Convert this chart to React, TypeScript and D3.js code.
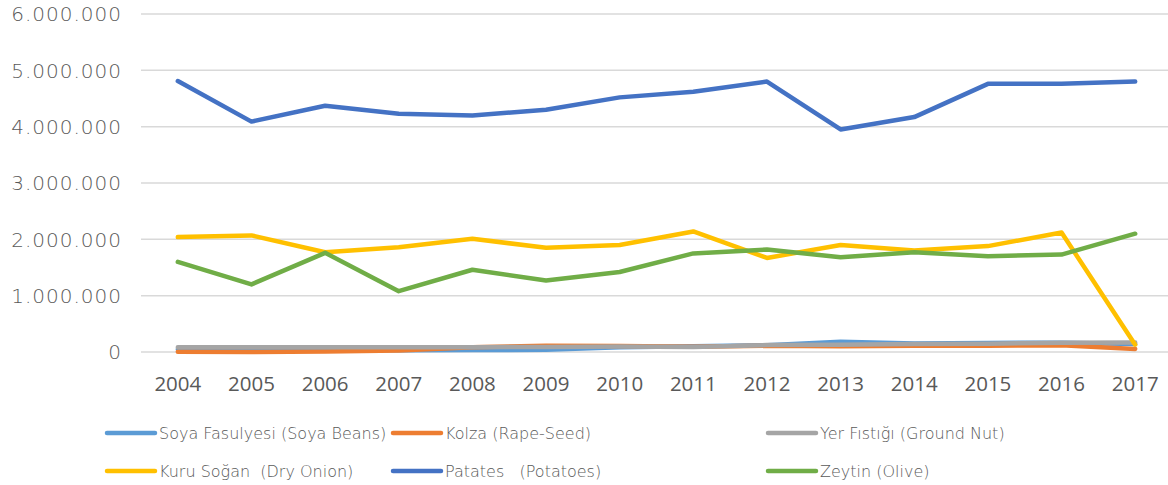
import React from "react";
import * as d3 from "d3";

const years = ["2004","2005","2006","2007","2008","2009","2010","2011","2012","2013","2014","2015","2016","2017"];
const soya = [50000,29000,47000,31000,35000,40000,86000,102000,122000,180000,150000,161000,165000,140000];
const kolza = [4000,1000,7000,28000,84000,113000,106000,91000,110000,100000,110000,110000,120000,55000];
const yerFistigi = [85000,85000,85000,85000,85000,90000,97000,90000,123000,130000,140000,147000,164000,167000];
const kuruSogan = [2040000,2070000,1770000,1860000,2010000,1850000,1900000,2140000,1670000,1900000,1800000,1880000,2120000,130000];
const patates = [4810000,4090000,4370000,4230000,4200000,4300000,4520000,4620000,4800000,3950000,4170000,4760000,4760000,4800000];
const zeytin = [1600000,1200000,1760000,1080000,1460000,1270000,1420000,1750000,1820000,1680000,1770000,1700000,1730000,2100000];
const yTicks = [0,1000000,2000000,3000000,4000000,5000000,6000000];

const series = [
  { name: "Soya Fasulyesi (Soya Beans)", values: soya, color: "#5B9BD5" },
  { name: "Kolza (Rape-Seed)", values: kolza, color: "#ED7D31" },
  { name: "Yer Fıstığı (Ground Nut)", values: yerFistigi, color: "#A5A5A5" },
  { name: "Kuru Soğan  (Dry Onion)", values: kuruSogan, color: "#FFC000" },
  { name: "Patates   (Potatoes)", values: patates, color: "#4472C4" },
  { name: "Zeytin (Olive)", values: zeytin, color: "#70AD47" },
];

const legendPos = [
  [107, 433], [393, 433], [768, 433],
  [107, 471], [393, 471], [768, 471],
];

const fmt = (v: number) => v === 0 ? "0" : d3.format(",")(v).replace(/,/g, ".");

export default function App() {
  const W = 1168, H = 485;
  const x = d3.scaleBand().domain(years).range([141, 1172]);
  const y = d3.scaleLinear().domain([0, 6000000]).range([352, 14]);
  const geo = "'DejaVu Sans', sans-serif";
  const xfont = "'Open Sans', sans-serif";
  const line = d3.line<number>()
    .x((_, i) => (x(years[i]) as number) + x.bandwidth() / 2)
    .y((d) => y(d));
  return (
    <div style={{ position: "fixed", left: 0, top: 0 }}>
      <svg width={W} height={H} style={{ display: "block", background: "#fff" }}>
        {yTicks.map((t) => (
          <g key={t}>
            <line x1={141} x2={1168} y1={y(t)} y2={y(t)} stroke="#D9D9D9" strokeWidth={1.5} />
            <text x={122} y={y(t)} dy="0.36em" textAnchor="end" fontFamily={geo} fontWeight={200} fontSize={20} letterSpacing={1} fill="#595959">{fmt(t)}</text>
          </g>
        ))}
        {years.map((yr) => (
          <text key={yr} x={(x(yr) as number) + x.bandwidth() / 2} y={391} textAnchor="middle" fontFamily={xfont} fontSize={20.5} fill="#595959">{yr}</text>
        ))}
        {series.map((s) => (
          <path key={s.name} d={line(s.values) || ""} fill="none" stroke={s.color} strokeWidth={4.5} strokeLinecap="round" strokeLinejoin="round" />
        ))}
        {series.map((s, i) => (
          <g key={s.name} transform={`translate(${legendPos[i][0]},${legendPos[i][1]})`}>
            <line x1={0} x2={48} y1={0} y2={0} stroke={s.color} strokeWidth={4.5} strokeLinecap="round" />
            <text x={52} y={0} dy="0.36em" fontFamily={geo} fontWeight={200} fontSize={16} fill="#595959" style={{ whiteSpace: "pre" }}>{s.name}</text>
          </g>
        ))}
      </svg>
    </div>
  );
}
